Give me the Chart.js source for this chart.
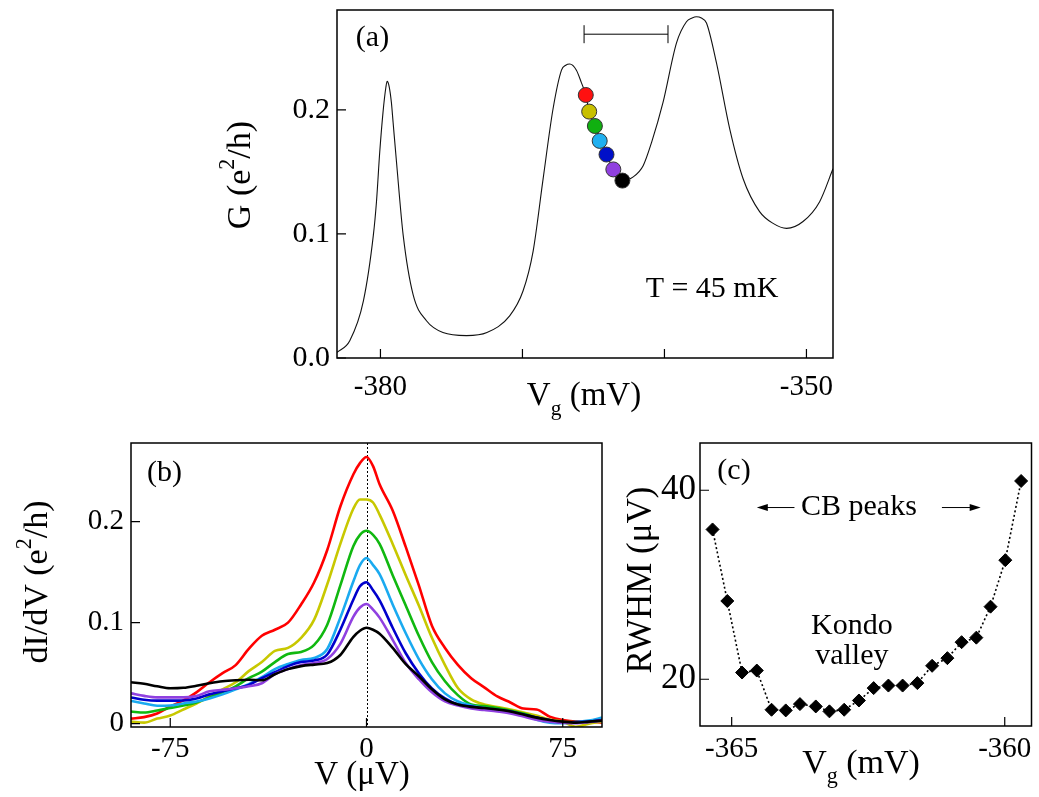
<!DOCTYPE html>
<html>
<head>
<meta charset="utf-8">
<script src="https://cdn.jsdelivr.net/npm/chart.js@4.4.1/dist/chart.umd.min.js"></script>
<style>
  html, body { margin: 0; padding: 0; background: #fff; }
  #wrap { position: relative; width: 1039px; height: 797px; overflow: hidden; }
  canvas { position: absolute; }
</style>
</head>
<body>
<div id="wrap">
  <canvas id="chartA" width="860" height="420" style="left:0;top:0"></canvas>
  <canvas id="chartB" width="620" height="377" style="left:0;top:420px"></canvas>
  <canvas id="chartC" width="419" height="377" style="left:620px;top:420px"></canvas>
</div>
<script>
// ---- panel (a): conductance vs gate voltage ----
const gateV = [-383.06, -382.16, -381.2, -380.5, -380.28, -380.05, -379.82, -379.62, -379.53, -379.39, -379.23, -379.11,
  -378.87, -378.4, -377.7, -376.76, -375.6, -373.94, -372.5, -370.9, -369.96, -369.25, -368.55, -367.85,
  -367.25, -366.95, -366.67, -366.2, -365.85, -365.54, -365.3, -364.9, -364.56, -364.08, -363.6, -362.96, -362.2,
  -361.5, -360.9, -360.1, -359.15, -358.45, -358.05, -357.75, -357.4, -357.04, -356.34, -355.4, -354.46, -353.3, -352.35,
  -351.4, -350.24, -349.07, -348.13];
const condG = [0.0045, 0.014, 0.046, 0.099, 0.126, 0.166, 0.198, 0.218, 0.223, 0.219, 0.206, 0.19,
  0.158, 0.099, 0.051, 0.030, 0.0205, 0.018, 0.0205, 0.034, 0.054, 0.086, 0.144, 0.2005,
  0.232, 0.236, 0.237, 0.232, 0.222, 0.212, 0.1986, 0.187, 0.175, 0.164, 0.152, 0.143, 0.146,
  0.155, 0.174, 0.206, 0.254, 0.271, 0.274, 0.275, 0.274, 0.270, 0.238, 0.1845, 0.1445, 0.118, 0.1085,
  0.1045, 0.110, 0.126, 0.1525];
const dotV = [-365.54, -365.3, -364.9, -364.56, -364.08, -363.6, -362.96];
const dotG = [0.212, 0.1986, 0.187, 0.175, 0.164, 0.152, 0.143];
const dotColors = ['#ff1010', '#c8c000', '#10b010', '#20b0f0', '#0010c8', '#9040e0', '#000000'];
const barV = [-365.66, -359.75];
const barG = [0.261, 0.261];
const aTicksX = [-380, -370, -360, -350];
const aLabelsX = ['-380', '', '', '-350'];
const aTicksY = [0, 0.1, 0.2];
const aLabelsY = ['0.0', '0.1', '0.2'];

// ---- panel (b): differential conductance vs bias ----
const biasV = [-90, -85, -80, -75, -70, -65, -60, -55, -50, -45, -40, -35, -30, -25, -20, -15, -10, -5, -2.5,
  0, 2.5, 5, 10, 15, 20, 25, 30, 35, 40, 45, 50, 55, 60, 65, 70, 75, 80, 85, 90];
const didvRed = [0.005, 0.0065, 0.010, 0.017, 0.023, 0.031, 0.041, 0.050, 0.058, 0.074, 0.087, 0.093, 0.100,
  0.118, 0.140, 0.172, 0.215, 0.247, 0.258, 0.264, 0.255, 0.237, 0.211, 0.175, 0.137, 0.097, 0.075, 0.058,
  0.045, 0.036, 0.027, 0.021, 0.015, 0.014, 0.007, 0.0035, 0.002, 0.002, 0.001];
const didvYellow = [0.002, 0.001, 0.005, 0.008, 0.014, 0.020, 0.027, 0.034, 0.041, 0.052, 0.061, 0.072, 0.075,
  0.085, 0.103, 0.138, 0.178, 0.213, 0.222, 0.222, 0.219, 0.207, 0.178, 0.147, 0.117, 0.085, 0.058, 0.035,
  0.024, 0.019, 0.0165, 0.014, 0.011, 0.008, 0.004, 0.002, -0.003, 0.000, 0.002];
const didvGreen = [0.012, 0.011, 0.013, 0.0155, 0.018, 0.021, 0.026, 0.031, 0.037, 0.045, 0.0515, 0.061, 0.069,
  0.071, 0.078, 0.098, 0.137, 0.176, 0.187, 0.191, 0.187, 0.178, 0.147, 0.117, 0.087, 0.061, 0.042, 0.028,
  0.019, 0.0175, 0.0155, 0.013, 0.010, 0.006, 0.0027, 0.0015, 0.0015, 0.002, 0.005];
const didvCyan = [0.0225, 0.020, 0.0178, 0.018, 0.020, 0.022, 0.025, 0.029, 0.034, 0.039, 0.046, 0.054, 0.059,
  0.063, 0.065, 0.074, 0.105, 0.141, 0.157, 0.164, 0.157, 0.148, 0.118, 0.0895, 0.064, 0.044, 0.030, 0.022,
  0.018, 0.0155, 0.0135, 0.011, 0.0085, 0.004, 0.001, 0.0004, 0.0015, 0.003, 0.006];
const didvBlue = [0.026, 0.0237, 0.0228, 0.0228, 0.023, 0.025, 0.029, 0.032, 0.035, 0.0383, 0.045, 0.051, 0.057,
  0.061, 0.0625, 0.0685, 0.093, 0.123, 0.136, 0.140, 0.132, 0.122, 0.095, 0.0697, 0.050, 0.035, 0.025, 0.019,
  0.017, 0.015, 0.0135, 0.012, 0.009, 0.006, 0.0035, 0.001, 0.0015, 0.002, 0.0036];
const didvPurple = [0.030, 0.0275, 0.026, 0.026, 0.026, 0.0275, 0.032, 0.0335, 0.035, 0.037, 0.040, 0.049, 0.054,
  0.058, 0.060, 0.064, 0.079, 0.106, 0.115, 0.1185, 0.113, 0.105, 0.083, 0.060, 0.044, 0.031, 0.022, 0.018,
  0.015, 0.0135, 0.012, 0.010, 0.007, 0.004, 0.002, 0.001, 0.0005, 0.0015, 0.003];
const didvBlack = [0.041, 0.0395, 0.037, 0.035, 0.0355, 0.0375, 0.040, 0.042, 0.043, 0.0435, 0.043, 0.049, 0.054,
  0.057, 0.0585, 0.060, 0.068, 0.086, 0.092, 0.095, 0.093, 0.089, 0.075, 0.059, 0.047, 0.034, 0.024, 0.019,
  0.0166, 0.0155, 0.014, 0.012, 0.009, 0.006, 0.0037, 0.002, 0.001, 0.002, 0.003];
const bTicksX = [-75, 0, 75];
const bLabelsX = ['-75', '0', '75'];
const bTicksY = [0, 0.1, 0.2];
const bLabelsY = ['0', '0.1', '0.2'];

// ---- panel (c): peak width vs gate voltage ----
const rwhmV = [-365.35, -365.08, -364.81, -364.54, -364.27, -364.01, -363.75, -363.46, -363.21, -362.94, -362.67,
  -362.40, -362.13, -361.87, -361.60, -361.33, -361.05, -360.79, -360.52, -360.26, -359.99, -359.70];
const rwhm = [35.85, 28.28, 20.71, 20.92, 16.77, 16.70, 17.37, 17.12, 16.6, 16.77, 17.75,
  19.06, 19.33, 19.33, 19.59, 21.42, 22.23, 23.92, 24.40, 27.68, 32.6, 40.98];
const cTicksX = [-365, -360];
const cLabelsX = ['-365', '-360'];
const cTicksY = [20, 40];
const cLabelsY = ['20', '40'];

const FONT = "'Liberation Serif', 'Times New Roman', serif";
Chart.defaults.font.family = FONT;
Chart.defaults.color = '#000';

const pts = (xs, ys) => xs.map((x, i) => ({ x: x, y: ys[i] }));

// draw text made of parts: [text] or [text, 'sub'|'sup']
function drawRich(ctx, parts, x, y, size, align) {
  let w = 0;
  parts.forEach(p => {
    ctx.font = (p[1] ? size * 0.65 : size) + 'px ' + FONT;
    w += ctx.measureText(p[0]).width;
  });
  let cx = align === 'center' ? x - w / 2 : x;
  ctx.textAlign = 'left';
  parts.forEach(p => {
    const s = p[1] ? size * 0.65 : size;
    ctx.font = s + 'px ' + FONT;
    let dy = 0;
    if (p[1] === 'sub') dy = size * 0.3;
    if (p[1] === 'sup') dy = -size * 0.38;
    ctx.fillText(p[0], cx, y + dy);
    cx += ctx.measureText(p[0]).width;
  });
}

// frame, inward tick marks and free text
const decorPlugin = {
  id: 'decor',
  beforeDatasetsDraw(chart, args, o) {
    if (o.zeroLine) {
      const { ctx, chartArea: a, scales: { x } } = chart;
      const px = Math.round(x.getPixelForValue(0)) + 0.5;
      ctx.save();
      ctx.strokeStyle = '#000';
      ctx.lineWidth = 1;
      ctx.setLineDash([2, 2]);
      ctx.beginPath();
      ctx.moveTo(px, a.top);
      ctx.lineTo(px, a.bottom);
      ctx.stroke();
      ctx.restore();
    }
  },
  afterDatasetsDraw(chart, args, o) {
    const { ctx, chartArea: a, scales: { x, y } } = chart;
    ctx.save();
    ctx.strokeStyle = '#000';
    ctx.lineWidth = 1.5;
    ctx.strokeRect(a.left, a.top, a.width, a.height);
    ctx.lineWidth = 1.2;
    ctx.beginPath();
    x.ticks.forEach(t => {
      const px = x.getPixelForValue(t.value);
      ctx.moveTo(px, a.bottom);
      ctx.lineTo(px, a.bottom - 9);
    });
    y.ticks.forEach(t => {
      const py = y.getPixelForValue(t.value);
      ctx.moveTo(a.left, py);
      ctx.lineTo(a.left + 9, py);
    });
    ctx.stroke();

    ctx.fillStyle = '#000';
    (o.texts || []).forEach(t => {
      let tx = t.x, ty = t.y;
      if (t.data) { tx = x.getPixelForValue(t.x); ty = y.getPixelForValue(t.y); }
      ctx.textBaseline = t.baseline || 'middle';
      if (t.rotate) {
        ctx.save();
        ctx.translate(tx, ty);
        ctx.rotate(-Math.PI / 2);
        drawRich(ctx, t.parts, 0, 0, t.size || 30, 'center');
        ctx.restore();
      } else {
        drawRich(ctx, t.parts, tx, ty, t.size || 30, 'center');
      }
    });

    (o.arrows || []).forEach(ar => {
      const x1 = x.getPixelForValue(ar.from), x2 = x.getPixelForValue(ar.to);
      const py = y.getPixelForValue(ar.y);
      const dir = Math.sign(x2 - x1);
      ctx.lineWidth = 1;
      ctx.beginPath();
      ctx.moveTo(x1, py);
      ctx.lineTo(x2 - dir * 8, py);
      ctx.stroke();
      ctx.beginPath();
      ctx.moveTo(x2, py);
      ctx.lineTo(x2 - dir * 11, py - 3.5);
      ctx.lineTo(x2 - dir * 11, py + 3.5);
      ctx.closePath();
      ctx.fill();
    });
    ctx.restore();
  }
};

function axis(min, max, ticks, labels, opts) {
  return {
    type: 'linear',
    min: min,
    max: max,
    grid: { display: false, drawTicks: false },
    border: { display: false },
    afterBuildTicks: s => { s.ticks = ticks.map(v => ({ value: v })); },
    afterFit: s => {
      if (opts.width) s.width = opts.width;
      if (opts.height) s.height = opts.height;
      // keep the plot box where the layout padding puts it
      s.paddingTop = 0; s.paddingBottom = 0; s.paddingLeft = 0; s.paddingRight = 0;
    },
    ticks: {
      autoSkip: false,
      maxRotation: 0,
      padding: opts.padding,
      font: { size: opts.size || 30, lineHeight: 1 },
      color: '#000',
      callback: (v, i) => labels[i]
    }
  };
}

const common = {
  responsive: false,
  animation: false,
  plugins: { legend: { display: false }, tooltip: { enabled: false } }
};

// ---- chart (a) ----
new Chart(document.getElementById('chartA'), {
  type: 'scatter',
  data: {
    datasets: [
      {
        data: pts(dotV, dotG),
        pointRadius: 7.5,
        pointBackgroundColor: dotColors,
        pointBorderColor: '#333',
        pointBorderWidth: 1,
        order: 0
      },
      {
        data: pts(barV, barG),
        showLine: true,
        borderColor: '#000',
        borderWidth: 1,
        pointStyle: 'line',
        rotation: 90,
        pointRadius: 9,
        pointBorderColor: '#000',
        pointBorderWidth: 1,
        order: 1
      },
      {
        data: pts(gateV, condG),
        showLine: true,
        borderColor: '#111',
        borderWidth: 1.1,
        pointRadius: 0,
        cubicInterpolationMode: 'monotone',
        order: 2
      }
    ]
  },
  options: Object.assign({}, common, {
    layout: { padding: { top: 7, right: 27, left: 0, bottom: 0 } },
    scales: {
      x: axis(-383.06, -348.13, aTicksX, aLabelsX, { height: 62, padding: 15, size: 29 }),
      y: axis(0, 0.2805, aTicksY, aLabelsY, { width: 337, padding: 7, size: 30 })
    },
    plugins: Object.assign({}, common.plugins, {
      decor: {
        texts: [
          { parts: [['(a)']], x: 372.5, y: 38 },
          { parts: [['T = 45 mK']], x: 712, y: 297, baseline: 'alphabetic' },
          { parts: [['G (e'], ['2', 'sup'], ['/h)']], x: 241, y: 175, rotate: true, size: 34 },
          { parts: [['V'], ['g', 'sub'], [' (mV)']], x: 584, y: 405, baseline: 'alphabetic', size: 33 }
        ]
      }
    })
  }),
  plugins: [decorPlugin]
});

// ---- chart (b) ----
const bSeries = [
  [didvBlack, '#000000'],
  [didvPurple, '#9040e0'],
  [didvBlue, '#0000cc'],
  [didvCyan, '#1aaaf0'],
  [didvGreen, '#10b810'],
  [didvYellow, '#c8c800'],
  [didvRed, '#ff0000']
];
new Chart(document.getElementById('chartB'), {
  type: 'scatter',
  data: {
    datasets: bSeries.map((s, i) => ({
      data: pts(biasV, s[0]),
      showLine: true,
      borderColor: s[1],
      borderWidth: 2.6,
      pointRadius: 0,
      cubicInterpolationMode: 'monotone',
      order: i
    }))
  },
  options: Object.assign({}, common, {
    layout: { padding: { top: 23, right: 18, left: 0, bottom: 0 } },
    scales: {
      x: axis(-90, 90, bTicksX, bLabelsX, { height: 70, padding: 8, size: 29 }),
      y: axis(-0.0033, 0.2779, bTicksY, bLabelsY, { width: 131, padding: 7, size: 29 })
    },
    plugins: Object.assign({}, common.plugins, {
      decor: {
        zeroLine: true,
        texts: [
          { parts: [['(b)']], x: 164.5, y: 53 },
          { parts: [['dI/dV (e'], ['2', 'sup'], ['/h)']], x: 38, y: 162, rotate: true, size: 34 },
          { parts: [['V (μV)']], x: 362, y: 364, baseline: 'alphabetic', size: 33 }
        ]
      }
    })
  }),
  plugins: [decorPlugin]
});

// ---- chart (c) ----
new Chart(document.getElementById('chartC'), {
  type: 'scatter',
  data: {
    datasets: [{
      data: pts(rwhmV, rwhm),
      showLine: true,
      borderColor: '#000',
      borderWidth: 1.6,
      borderDash: [2, 2.5],
      pointStyle: 'rectRot',
      pointRadius: 6.5,
      pointBackgroundColor: '#000',
      pointBorderColor: '#000',
      pointBorderWidth: 1
    }]
  },
  options: Object.assign({}, common, {
    layout: { padding: { top: 23, right: 6.3, left: 0, bottom: 0 } },
    scales: {
      x: axis(-365.58, -359.51, cTicksX, cLabelsX, { height: 71, padding: 9, size: 29 }),
      y: axis(15.05, 45.0, cTicksY, cLabelsY, { width: 80, padding: 4, size: 35 })
    },
    plugins: Object.assign({}, common.plugins, {
      decor: {
        texts: [
          { parts: [['(c)']], x: 114, y: 51 },
          { parts: [['RWHM (μV)']], x: 22, y: 160, rotate: true, size: 35 },
          { parts: [['V'], ['g', 'sub'], [' (mV)']], x: 241, y: 353, baseline: 'alphabetic', size: 34 },
          { parts: [['CB peaks']], x: -362.67, y: 38.17, data: true },
          { parts: [['Kondo']], x: -362.8, y: 25.57, data: true },
          { parts: [['valley']], x: -362.8, y: 22.4, data: true }
        ],
        arrows: [
          { from: -363.85, to: -364.54, y: 38.17 },
          { from: -361.15, to: -360.44, y: 38.17 }
        ]
      }
    })
  }),
  plugins: [decorPlugin]
});
</script>
</body>
</html>
